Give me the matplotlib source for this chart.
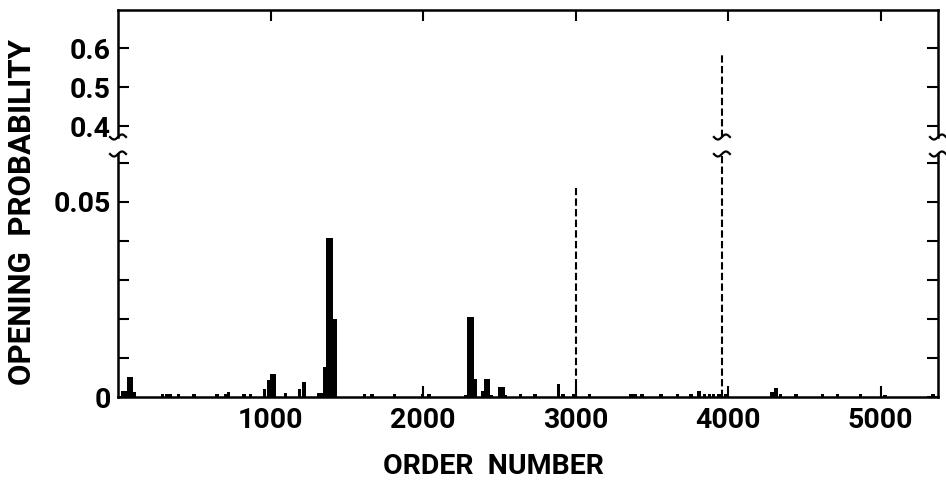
import numpy as np
import matplotlib
matplotlib.use('Agg')
import matplotlib.pyplot as plt
from matplotlib.lines import Line2D
from matplotlib.transforms import IdentityTransform

# ---- data ----
order = [28, 50, 70, 90, 108,
         292, 317, 342, 397, 498, 650, 705, 724, 826, 870,
         962, 985, 1008, 1026, 1100, 1190, 1220,
         1315, 1337, 1357, 1378, 1400, 1422,
         1615, 1665, 1815, 1995, 2040,
         2280, 2299, 2321, 2343, 2391, 2413, 2428, 2446, 2505, 2524, 2540,
         2640, 2735, 2888, 2919, 2985, 3090,
         3365, 3390, 3435, 3560, 3670, 3757, 3810, 3845, 3880, 3905, 3940, 3985,
         4288, 4315, 4344, 4445, 4620, 4718, 4870, 5030, 5345]
prob = [0.0015, 0.0015, 0.0052, 0.0050, 0.0012,
        0.0008, 0.0008, 0.0008, 0.0007, 0.0007, 0.0007, 0.0008, 0.0014, 0.0007, 0.0007,
        0.0020, 0.0043, 0.0060, 0.0060, 0.0009, 0.0020, 0.0038,
        0.0010, 0.0010, 0.0078, 0.0407, 0.0407, 0.0199,
        0.0008, 0.0008, 0.0007, 0.0007, 0.0008,
        0.0005, 0.0206, 0.0206, 0.0045, 0.0016, 0.0045, 0.0045, 0.0006, 0.0025, 0.0025, 0.0005,
        0.0008, 0.0008, 0.0033, 0.0008, 0.0007, 0.0007,
        0.0007, 0.0007, 0.0007, 0.0007, 0.0007, 0.0007, 0.0016, 0.0007, 0.0007, 0.0007, 0.0008, 0.0008,
        0.0012, 0.0022, 0.0008, 0.0007, 0.0007, 0.0007, 0.0007, 0.0005, 0.0008]

dashed_order = [3000, 3960]
dashed_prob = [0.0535, 0.59]

x_ticks = [1000, 2000, 3000, 4000, 5000]
x_labels = ['1000', '2000', '3000', '4000', '5000']
upper_ticks = [0.4, 0.5, 0.6]
upper_labels = ['0.4', '0.5', '0.6']
lower_major = [0.0, 0.05]
lower_labels = ['0', '0.05']
lower_minor = [0.01, 0.02, 0.03, 0.04, 0.06]

x_lim = (0, 5377)
upper_lim = (0.3726, 0.698)
lower_lim = (0.0, 0.0623)

# ---- style ----
plt.rcParams['font.family'] = ['Roboto', 'DejaVu Sans']
plt.rcParams['font.weight'] = 'bold'
FS = 20.5
LW = 1.8

W, H = 946, 493
fig = plt.figure(figsize=(W / 100, H / 100), dpi=100)


def rect(l, t, r, b):
    return [l / W, 1 - b / H, (r - l) / W, (b - t) / H]


ax_hi = fig.add_axes(rect(118, 10, 938, 137))
ax_lo = fig.add_axes(rect(118, 154, 938, 397))

for ax in (ax_hi, ax_lo):
    ax.set_xlim(*x_lim)
    for s in ax.spines.values():
        s.set_linewidth(LW)
    ax.set_xticks(x_ticks)
    ax.tick_params(which='both', direction='in', length=8, width=1.5,
                   left=True, right=True, labelsize=FS, pad=5)

ax_hi.set_ylim(*upper_lim)
ax_lo.set_ylim(*lower_lim)
ax_hi.spines['bottom'].set_visible(False)
ax_lo.spines['top'].set_visible(False)

ax_hi.tick_params(axis='x', top=True, bottom=False, labelbottom=False, labeltop=False)
ax_lo.tick_params(axis='x', top=False, bottom=True, pad=7)
ax_lo.set_xticklabels(x_labels)

ax_hi.set_yticks(upper_ticks)
ax_hi.set_yticklabels(upper_labels)
ax_lo.set_yticks(lower_major)
ax_lo.set_yticklabels(lower_labels)
ax_lo.set_yticks(lower_minor, minor=True)

# bars
ax_lo.bar(order, prob, width=22, color='black', linewidth=0, align='center')

# dashed lines
for xv, top in zip(dashed_order, dashed_prob):
    if top <= lower_lim[1]:
        ax_lo.plot([xv, xv], [0, top], color='black', lw=1.5, dashes=(3.5, 1.6))
    else:
        ax_lo.plot([xv, xv], [0, lower_lim[1]], color='black', lw=1.5, dashes=(3.5, 1.6),
                   clip_on=False)
        ax_hi.plot([xv, xv], [upper_lim[0], top], color='black', lw=1.5, dashes=(3.5, 1.6),
                   clip_on=False)

# break marks (tilde shapes) drawn in pixel space
fig.canvas.draw()


def tilde(xp, yp, half=8, amp=2.5):
    t = np.linspace(-1, 1, 40)
    xs = xp + half * t
    ys = yp + amp * np.sin(np.pi * t)
    fig.add_artist(Line2D(xs, ys, transform=IdentityTransform(), color='black', lw=1.6))


hi_bottom = ax_hi.transAxes.transform((0, 0))[1]
lo_top = ax_lo.transAxes.transform((0, 1))[1]
for xfrac in (0, 1):
    xp = ax_lo.transAxes.transform((xfrac, 0))[0]
    tilde(xp, hi_bottom)
    tilde(xp, lo_top)
for xv, top in zip(dashed_order, dashed_prob):
    if top > lower_lim[1]:
        xp = ax_lo.transData.transform((xv, 0))[0]
        tilde(xp, hi_bottom)
        tilde(xp, lo_top)

# axis labels
fig.text(493 / W, 1 - 466 / H, 'ORDER  NUMBER', ha='center', va='center', fontsize=20.5)
fig.text(22 / W, 1 - 212 / H, 'OPENING  PROBABILITY', ha='center', va='center',
         rotation=90, fontsize=22.5)

fig.savefig('out.png', dpi=100)
